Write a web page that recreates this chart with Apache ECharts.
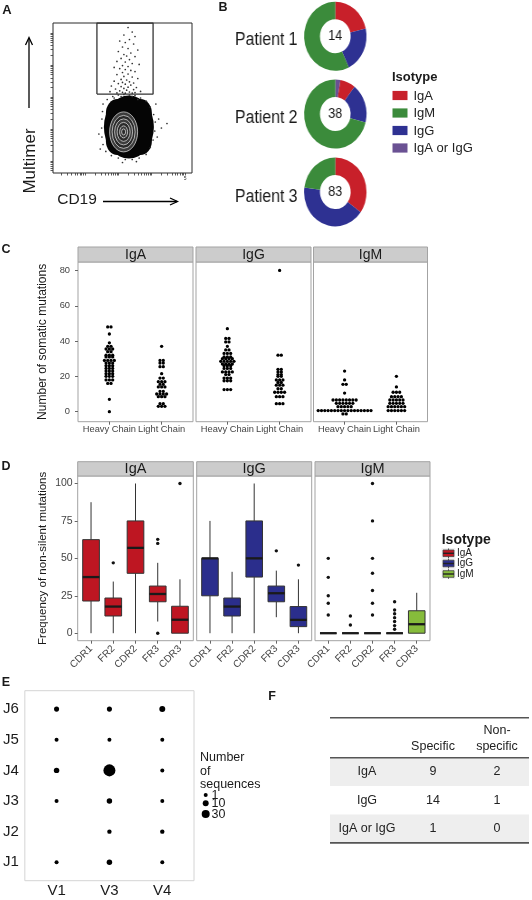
<!DOCTYPE html>
<html>
<head>
<meta charset="utf-8">
<script src="https://cdn.jsdelivr.net/npm/echarts@6.0.0/dist/echarts.min.js"></script>
<style>
html,body{margin:0;padding:0;background:#fff;}
#main{position:absolute;left:0;top:0;width:532px;height:900px;}
#pies{position:absolute;left:180px;top:0;width:230px;height:235px;transform-origin:0 0;transform:scaleX(0.905);}
</style>
</head>
<body>
<div id="main"></div>
<div id="pies"></div>
<script>
const FONT = '"Liberation Sans", Arial, Helvetica, sans-serif';

/* ====================== DATA ====================== */
// ---- Panel A: flow cytometry events (axis units: 0-5 log decades)
const gateEvents = [
  [2.7,4.85],[2.85,4.7],[2.55,4.6],[2.95,4.55],[2.75,4.45],
  [2.4,4.4],[2.6,4.35],[2.9,4.3],[2.5,4.2],[2.7,4.15],[3.05,4.1],[2.35,4.05],[2.8,4.0],
  [2.55,3.95],[2.65,3.9],[2.95,3.88],[2.45,3.82],[2.75,3.78],[2.3,3.72],[2.6,3.7],[2.85,3.65],[3.1,3.62],[2.5,3.58],[2.7,3.55],[2.2,3.52],
  [2.4,3.48],[2.6,3.45],[2.8,3.42],[2.95,3.38],[2.5,3.35],[2.7,3.3],[2.3,3.28],[2.55,3.22],[2.85,3.2],[3.05,3.15],[2.45,3.12],[2.65,3.1],[2.2,3.06],[2.75,3.04],[2.5,3.02],[2.9,3.0],
  [2.35,2.98],[2.6,2.96],[2.8,2.93],[2.1,2.9],[2.45,2.88],[2.7,2.86],[3.0,2.85],[2.55,2.82],[2.25,2.8],[2.9,2.78],[2.65,2.76],[2.4,2.74],[3.15,2.72],[2.05,2.71],[2.75,2.7],[2.5,2.69],[2.95,2.68],[2.3,2.67],[2.6,2.66],[2.85,2.665]
];
const populationEdgeEvents = [
  [1.8,2.3],[1.95,2.45],[2.15,2.55],[2.35,2.6],[2.55,2.62],[2.75,2.6],[2.95,2.58],[3.15,2.5],[3.35,2.4],[3.5,2.2],
  [3.62,1.95],[3.68,1.7],[3.66,1.4],[3.6,1.1],[3.5,0.85],[3.35,0.62],[3.1,0.5],[2.85,0.45],[2.6,0.45],[2.35,0.5],
  [2.1,0.58],[1.9,0.72],[1.8,0.95],[1.76,1.2],[1.75,1.5],[1.76,1.8],[1.78,2.05],
  [3.8,1.8],[3.9,1.5],[3.75,1.2],[4.1,1.65],[3.7,2.3],[1.65,1.3],[1.7,0.8],[2.5,0.35],[3.0,0.38],[2.2,2.5],[2.45,2.55],[2.85,2.55],[3.05,2.45]
];
const gateBox = [[1.58,2.63],[1.58,5],[3.6,5],[3.6,2.63],[1.58,2.63]];
const densePopulationCenter = [2.73,1.53];
const contourCenter = [2.54,1.37];

// ---- Panel B: isotype counts per patient
const patientNames = ['Patient 1','Patient 2','Patient 3'];
const isotypeLegend = ['IgA','IgM','IgG','IgA or IgG'];
const sliceOrder = ['IgA or IgG','IgA','IgG','IgM'];
const patient1Counts = [0,3,3,8];
const patient2Counts = [1,3,7,27];
const patient3Counts = [0,29,35,19];

// ---- Panel C: somatic mutations (dot-plot rows: [value, number of dots])
const cFacets = ['IgA','IgG','IgM'];
const chainCategories = ['Heavy Chain','Light Chain'];
const cTicks = [0,20,40,60,80];
const igaHeavy = [[48,2],[44,1],[39,1],[37,2],[35.5,3],[34,2],[32,3],[31,3],[29,4],[27.5,3],[26,3],[24.5,3],[23,3],[21.5,3],[20,3],[18,3],[16,2],[7,1],[0,1]];
const igaLight = [[37,1],[29,2],[27.5,2],[25.5,2],[21.5,1],[19,2],[17,3],[15.5,2],[14,3],[11.5,2],[10,4],[8.5,3],[4.5,2],[3,3]];
const iggHeavy = [[47,1],[41.5,2],[39.5,2],[37,1],[35,2],[33,3],[31,3],[30,4],[28.5,5],[27,4],[26,3],[24.5,3],[22.5,4],[21,2],[19,3],[17.5,3],[12.5,3]];
const iggLight = [[80,1],[32,2],[24,2],[22.5,2],[21,2],[20,2],[18,3],[16.5,2],[15,3],[13,2],[11,4],[8.5,3],[4.5,3]];
const igmHeavy = [[23,1],[18,1],[15.5,2],[10.5,1],[6.6,8],[4.7,6],[2.8,5],[0.6,17],[-1.3,2]];
const igmLight = [[20,1],[14,1],[11,3],[8.5,4],[6.6,5],[4.7,5],[2.8,6],[0.6,6]];

// ---- Panel D: frequency of non-silent mutations, boxes [min, Q1, median, Q3, max]
const regions = ['CDR1','FR2','CDR2','FR3','CDR3'];
const dFacets = ['IgA','IgG','IgM'];
const dTicks = [0,25,50,75,100];
const igaBoxes = [[0,21.5,37.5,62.5,87.5],[0,11.5,17.8,23.5,34.5],[0,40,57,75,100],[7.8,21,26.2,31.5,47],[0,0,9,18,36]];
const iggBoxes = [[0,25,50,50,75],[0,11.5,17.8,23.5,41],[0,37.5,50,75,100],[10.7,21,26.7,31.5,41.8],[0,4.4,8.9,17.8,36]];
const igmBoxes = [[0,0,0,0,0],[0,0,0,0,0],[0,0,0,0,0],[0,0,0,0,0],[0,0,6,15,27]];
const igaOutliers = [['FR2',47],['FR3',62.7],['FR3',60],['FR3',0],['CDR3',100]];
const iggOutliers = [['FR3',55],['CDR3',45.5]];
const igmOutliers = [['CDR1',50],['CDR1',37.3],['CDR1',25],['CDR1',20],['CDR1',12.2],['FR2',11.5],['FR2',5.5],
  ['CDR2',100],['CDR2',75],['CDR2',50],['CDR2',40],['CDR2',28.5],['CDR2',20],['CDR2',12.2],
  ['FR3',21],['FR3',15.5],['FR3',13],['FR3',10.4],['FR3',7.8],['FR3',5.1],['FR3',2.6]];

// ---- Panel E: V/J usage (number of sequences)
const vGenes = ['V1','V3','V4'];
const jGenes = ['J1','J2','J3','J4','J5','J6'];
const vjCounts = [
  ['V1','J6',5],['V3','J6',5],['V4','J6',10],
  ['V1','J5',1],['V3','J5',1],['V4','J5',1],
  ['V1','J4',7],['V3','J4',98],['V4','J4',1],
  ['V1','J3',1],['V3','J3',7],['V4','J3',1],
  ['V3','J2',2],['V4','J2',2],
  ['V1','J1',1],['V3','J1',7],['V4','J1',1]
];
const sizeBreaks = [1,10,30];

// ---- Panel F: specificity table
const tableRowNames = ['IgA','IgG','IgA or IgG'];
const specificCounts = [9,14,1];
const nonSpecificCounts = [2,1,0];

/* ====================== STYLE / LAYOUT ====================== */
const isoColor = {'IgA':'#C8202A','IgM':'#3B8B3B','IgG':'#2E3192','IgA or IgG':'#6A5193'};
const boxColor = {'IgA':'#BE1622','IgG':'#2B2E8C','IgM':'#86BC3B'};
const PANEL_BORDER = '#a3a3a3', STRIP_FILL = '#cccccc', TICK_COL = '#666', LAB_COL = '#444';

const grids = [], xAxes = [], yAxes = [], series = [], gfx = [];
function addGrid(g){ grids.push(g); return grids.length - 1; }
function txt(x, y, text, o = {}){
  gfx.push({type:'text', x, y, rotation:o.rot || 0, silent:true, z:o.z || 10,
    style:{text, fontSize:o.size || 12, fontFamily:FONT, fontWeight:o.bold ? 'bold' : 'normal', fill:o.color || '#1a1a1a',
      align:o.align || 'center', textAlign:o.align || 'center', verticalAlign:o.va || 'middle', textVerticalAlign:o.va || 'middle'}});
}
function line(x1, y1, x2, y2, o = {}){ gfx.push({type:'line', silent:true, z:o.z || 10, shape:{x1, y1, x2, y2}, style:{stroke:o.color || '#000', lineWidth:o.w || 1}}); }
function poly(points, o = {}){ gfx.push({type:'polyline', silent:true, z:o.z || 10, shape:{points}, style:{stroke:o.color || '#000', lineWidth:o.w || 1, fill:null}}); }
function rect(x, y, w, h, o = {}){ gfx.push({type:'rect', silent:true, z:o.z || 1, shape:{x, y, width:w, height:h}, style:{fill:o.fill || 'none', stroke:o.stroke || null, lineWidth:o.w || 0}}); }

/* ---------- Panel A ---------- */
const logTicks = (starts, span) => { const t = []; starts.forEach(s => { for (let k = 1; k <= 9; k++){ const v = s + Math.log10(k) * span; if (v > 0.02 && v < 4.98) t.push(v); } }); return t; };
const gA = addGrid({left:53, top:23, width:139, height:150, show:true, borderColor:'#2b2b2b', borderWidth:1, backgroundColor:'transparent'});
xAxes.push({gridIndex:gA, type:'value', min:0, max:5, axisLine:{show:false, onZero:false}, splitLine:{show:false},
  axisTick:{show:true, customValues:logTicks([-0.05,1.15,2.35,3.55,4.75],1.2), length:2.5, lineStyle:{color:'#333', width:0.8}},
  axisLabel:{show:true, customValues:[4.75], formatter:() => '5', fontSize:5, margin:3, color:'#333', fontFamily:FONT}});
yAxes.push({gridIndex:gA, type:'value', min:0, max:5, axisLine:{show:false, onZero:false}, splitLine:{show:false},
  axisTick:{show:true, customValues:logTicks([-0.67,0.4,1.47,2.53,3.6,4.67],1.067), length:2.5, lineStyle:{color:'#333', width:0.8}},
  axisLabel:{show:false}});
series.push({type:'scatter', xAxisIndex:gA, yAxisIndex:gA, data:[densePopulationCenter], symbol:'circle', symbolSize:[50,63], itemStyle:{color:'#050505', opacity:1}, silent:true, z:2});
series.push({type:'scatter', xAxisIndex:gA, yAxisIndex:gA, data:[densePopulationCenter], symbol:'roundRect', symbolSize:[46,56], itemStyle:{color:'#050505', opacity:1}, silent:true, z:2});
[[28,40],[23,33],[18,26],[13,19],[8,12],[4,6]].forEach((s, i) => {
  series.push({type:'scatter', xAxisIndex:gA, yAxisIndex:gA, data:[contourCenter], symbol:'circle', symbolSize:s,
    itemStyle:{color: i % 2 ? '#2a2a2a' : '#3c3c3c', borderColor:'#e6e6e6', borderWidth:0.7, opacity:1}, silent:true, z:3});
});
series.push({type:'scatter', xAxisIndex:gA, yAxisIndex:gA, data:gateEvents.concat(populationEdgeEvents), symbolSize:1.7, itemStyle:{color:'#333', opacity:1}, silent:true, z:4});
series.push({type:'line', xAxisIndex:gA, yAxisIndex:gA, data:gateBox, symbol:'none', lineStyle:{color:'#333', width:1.3}, silent:true, z:5});
txt(7, 10, 'A', {bold:true, size:13});
txt(30, 161, 'Multimer', {size:17, rot:Math.PI/2});
line(29, 108, 29, 38, {w:1.3});
poly([[25.5,45],[29,37.5],[32.5,45]], {w:1.3});
txt(77, 200, 'CD19', {size:15.5});
line(103, 201.5, 177, 201.5, {w:1.3});
poly([[170,198],[177.5,201.5],[170,205]], {w:1.3});

/* ---------- Panel B legend (pies drawn in the scaled instance) ---------- */
txt(223, 8, 'B', {bold:true, size:12.5});
txt(392, 77, 'Isotype', {bold:true, size:13, align:'left'});
const legY = [95.5, 113, 130.5, 148];
isotypeLegend.forEach((n, i) => {
  rect(392.5, legY[i] - 4.6, 15, 9.2, {fill:isoColor[n], z:5});
  txt(413.5, legY[i] + 0.5, n, {size:13, align:'left', color:'#222'});
});

/* ---------- Panel C ---------- */
const cPanels = [{left:78, width:115}, {left:196, width:115}, {left:313.5, width:114}];
const cTop = 262, cH = 159.7;
const cRows = [[igaHeavy, igaLight], [iggHeavy, iggLight], [igmHeavy, igmLight]];
const DOT_R = 1.65, DOT_STEP = 3.3;
cPanels.forEach((p, k) => {
  const g = addGrid({left:p.left, top:cTop, width:p.width, height:cH, show:true, borderColor:PANEL_BORDER, borderWidth:1, backgroundColor:'#fff'});
  xAxes.push({gridIndex:g, type:'value', min:0.4, max:2.6, axisLine:{show:false, onZero:false}, splitLine:{show:false},
    axisTick:{show:true, customValues:[1,2], length:3, lineStyle:{color:TICK_COL}},
    axisLabel:{show:true, customValues:[1,2], formatter:v => chainCategories[Math.round(v) - 1], fontSize:9.3, margin:3.5, color:LAB_COL, fontFamily:FONT}});
  yAxes.push({gridIndex:g, type:'value', min:-5.7, max:84.8, axisLine:{show:false, onZero:false}, splitLine:{show:false},
    axisTick:{show:k === 0, customValues:cTicks, length:3, lineStyle:{color:TICK_COL}},
    axisLabel:{show:k === 0, customValues:cTicks, fontSize:9.3, margin:8, color:LAB_COL, fontFamily:FONT}});
  cRows[k].forEach((rows, ci) => {
    series.push({type:'custom', coordinateSystem:'cartesian2d', xAxisIndex:g, yAxisIndex:g, silent:true, z:3,
      data:rows.map(r => [ci + 1, r[0], r[1]]),
      renderItem(params, api){
        const c = api.coord([api.value(0), api.value(1)]);
        const n = api.value(2), ch = [];
        for (let i = 0; i < n; i++) ch.push({type:'circle', shape:{cx:c[0] + (i - (n - 1) / 2) * DOT_STEP, cy:c[1], r:DOT_R}, style:{fill:'#000'}});
        return {type:'group', children:ch};
      }});
  });
  rect(p.left, 247, p.width, 15, {fill:STRIP_FILL, stroke:PANEL_BORDER, w:1, z:2});
  txt(p.left + p.width / 2, 255, cFacets[k], {size:14, color:'#1a1a1a'});
});
txt(6, 250, 'C', {bold:true, size:12.5});
txt(43, cTop + cH / 2, 'Number of somatic mutations', {size:12, rot:Math.PI/2});

/* ---------- Panel D ---------- */
const dPanels = [{left:77.7, width:115.6}, {left:196.7, width:115}, {left:315, width:115}];
const dTop = 476, dH = 164.7;
const dBoxes = [igaBoxes, iggBoxes, igmBoxes];
const dOut = [igaOutliers, iggOutliers, igmOutliers];
const BOX_W = 0.75;
dPanels.forEach((p, k) => {
  const g = addGrid({left:p.left, top:dTop, width:p.width, height:dH, show:true, borderColor:PANEL_BORDER, borderWidth:1, backgroundColor:'#fff'});
  xAxes.push({gridIndex:g, type:'value', min:0.4, max:5.6, axisLine:{show:false, onZero:false}, splitLine:{show:false},
    axisTick:{show:true, customValues:[1,2,3,4,5], length:3, lineStyle:{color:TICK_COL}},
    axisLabel:{show:true, customValues:[1,2,3,4,5], formatter:v => regions[Math.round(v) - 1], rotate:45, fontSize:10, margin:6.5, color:LAB_COL, fontFamily:FONT}});
  yAxes.push({gridIndex:g, type:'value', min:-5, max:105, axisLine:{show:false, onZero:false}, splitLine:{show:false},
    axisTick:{show:k === 0, customValues:dTicks, length:3, lineStyle:{color:TICK_COL}},
    axisLabel:{show:k === 0, customValues:dTicks, fontSize:10.5, margin:5, color:LAB_COL, fontFamily:FONT}});
  const col = boxColor[dFacets[k]];
  series.push({type:'custom', coordinateSystem:'cartesian2d', xAxisIndex:g, yAxisIndex:g, silent:true, z:3,
    data:dBoxes[k].map((b, i) => [i + 1].concat(b)),
    renderItem(params, api){
      const x = api.value(0);
      const y = [1,2,3,4,5].map(d => api.coord([x, api.value(d)])[1]);
      const cx = api.coord([x, 0])[0];
      const hw = api.size([BOX_W, 0])[0] / 2;
      return {type:'group', children:[
        {type:'line', shape:{x1:cx, y1:y[0], x2:cx, y2:y[1]}, style:{stroke:'#333', lineWidth:1}},
        {type:'line', shape:{x1:cx, y1:y[3], x2:cx, y2:y[4]}, style:{stroke:'#333', lineWidth:1}},
        {type:'rect', shape:{x:cx - hw, y:y[3], width:2 * hw, height:y[1] - y[3]}, style:{fill:col, stroke:'#333', lineWidth:1}},
        {type:'line', shape:{x1:cx - hw, y1:y[2], x2:cx + hw, y2:y[2]}, style:{stroke:'#1a1a1a', lineWidth:2.3}}
      ]};
    }});
  series.push({type:'scatter', xAxisIndex:g, yAxisIndex:g, silent:true, z:4, symbolSize:3.4, itemStyle:{color:'#111', opacity:1},
    data:dOut[k].map(o => [regions.indexOf(o[0]) + 1, o[1]])});
  rect(p.left, 461.7, p.width, 14.3, {fill:STRIP_FILL, stroke:PANEL_BORDER, w:1, z:2});
  txt(p.left + p.width / 2, 469, dFacets[k], {size:14.5, color:'#1a1a1a'});
});
txt(6, 467, 'D', {bold:true, size:12.5});
txt(43, dTop + dH / 2, 'Frequency of non-silent mutations', {size:11.5, rot:Math.PI/2});
txt(441.7, 540, 'Isotype', {bold:true, size:14, align:'left'});
rect(441.5, 548, 14, 31, {fill:'#f0f0f0', z:2});
const dLegY = [553.3, 563.5, 574];
dFacets.forEach((n, i) => {
  line(448.5, dLegY[i] - 4.8, 448.5, dLegY[i] + 4.8, {color:'#555', w:1, z:3});
  rect(443, dLegY[i] - 3.3, 11, 6.6, {fill:boxColor[n], stroke:'#444', w:0.8, z:4});
  line(443, dLegY[i], 454, dLegY[i], {color:'#222', w:1.4, z:5});
  txt(457, dLegY[i], n, {size:10, align:'left', color:'#222'});
});

/* ---------- Panel E ---------- */
const sizeFn = v => 3.1 + 0.9 * Math.sqrt(v);
const gE = addGrid({left:22.7, top:690.7, width:171.3, height:190, show:true, borderColor:'#d4d4d4', borderWidth:1, backgroundColor:'#fff'});
xAxes.push({gridIndex:gE, type:'value', min:0.4, max:3.6, axisLine:{show:false, onZero:false}, splitLine:{show:false}, axisTick:{show:false},
  axisLabel:{show:true, customValues:[1,2,3], formatter:v => vGenes[Math.round(v) - 1], fontSize:15, margin:3, color:'#1a1a1a', fontFamily:FONT}});
yAxes.push({gridIndex:gE, type:'value', min:0.4, max:6.6, axisLine:{show:false, onZero:false}, splitLine:{show:false}, axisTick:{show:false},
  axisLabel:{show:true, customValues:[1,2,3,4,5,6], formatter:v => jGenes[Math.round(v) - 1], fontSize:15, margin:6, color:'#1a1a1a', fontFamily:FONT}});
series.push({type:'scatter', xAxisIndex:gE, yAxisIndex:gE, silent:true, z:3, itemStyle:{color:'#000', opacity:1},
  data:vjCounts.map(d => [vGenes.indexOf(d[0]) + 1, jGenes.indexOf(d[1]) + 1, d[2]]),
  symbolSize:v => sizeFn(v[2])});
txt(6, 683, 'E', {bold:true, size:12.5});
txt(200, 757.3, 'Number', {size:12.5, align:'left'});
txt(200, 771.7, 'of', {size:12.5, align:'left'});
txt(200, 784.5, 'sequences', {size:12.5, align:'left'});
const eLegY = [795, 803.3, 814];
sizeBreaks.forEach((b, i) => {
  gfx.push({type:'circle', silent:true, z:10, shape:{cx:205.7, cy:eLegY[i], r:sizeFn(b) / 2}, style:{fill:'#000'}});
  txt(211.5, eLegY[i] + 0.5, String(b), {size:12.5, align:'left'});
});

/* ---------- Panel F ---------- */
txt(272, 697, 'F', {bold:true, size:12.5});
const tL = 330, tR = 529, tTop = 717.7, tHead = 757.7, rowH = 28.4;
const colX = [367, 433, 497];
txt(colX[1], 747, 'Specific', {size:12.5, color:'#222'});
txt(colX[2], 731, 'Non-', {size:12.5, color:'#222'});
txt(colX[2], 747, 'specific', {size:12.5, color:'#222'});
tableRowNames.forEach((n, i) => {
  const y0 = tHead + i * rowH;
  if (i % 2 === 0) rect(tL, y0, tR - tL, rowH, {fill:'#eeeeee', z:1});
  txt(colX[0], y0 + rowH / 2, n, {size:12.5, color:'#222'});
  txt(colX[1], y0 + rowH / 2, String(specificCounts[i]), {size:12.5, color:'#222'});
  txt(colX[2], y0 + rowH / 2, String(nonSpecificCounts[i]), {size:12.5, color:'#222'});
});
line(tL, tTop, tR, tTop, {color:'#555', w:1.6});
line(tL, tHead, tR, tHead, {color:'#555', w:1.6});
line(tL, tHead + 3 * rowH, tR, tHead + 3 * rowH, {color:'#555', w:1.6});

const main = echarts.init(document.getElementById('main'), null, {renderer:'canvas'});
main.setOption({
  animation:false, backgroundColor:'#fff',
  textStyle:{fontFamily:FONT},
  grid:grids, xAxis:xAxes, yAxis:yAxes, series:series,
  graphic:{elements:gfx}
});

/* ---------- Panel B pies (horizontally compressed like the reference) ---------- */
const SX = 0.905;
const toLocal = x => (x - 180) / SX;
const pieCX = toLocal(335.3);
const pieCY = [36.3, 114, 192];
const labelY = [40, 118, 197];
const patientCounts = [patient1Counts, patient2Counts, patient3Counts];
const pieGfx = [];
patientNames.forEach((n, i) => {
  const total = patientCounts[i].reduce((a, b) => a + b, 0);
  pieGfx.push({type:'text', x:toLocal(297.5), y:labelY[i], silent:true,
    style:{text:n, fontSize:17.5, fontFamily:FONT, fill:'#1a1a1a', align:'right', textAlign:'right', verticalAlign:'middle', textVerticalAlign:'middle'}});
  pieGfx.push({type:'text', x:pieCX, y:pieCY[i], silent:true,
    style:{text:String(total), fontSize:14, fontFamily:FONT, fill:'#1a1a1a', align:'center', textAlign:'center', verticalAlign:'middle', textVerticalAlign:'middle'}});
});
const pies = echarts.init(document.getElementById('pies'), null, {renderer:'canvas'});
pies.setOption({
  animation:false, backgroundColor:'transparent',
  series:patientNames.map((n, i) => ({
    type:'pie', name:n, center:[pieCX, pieCY[i]], radius:[17, 34.5], startAngle:90, clockwise:true, silent:true,
    label:{show:false}, labelLine:{show:false}, itemStyle:{borderWidth:0}, emphasis:{disabled:true},
    data:sliceOrder.map((s, k) => ({name:s, value:patientCounts[i][k], itemStyle:{color:isoColor[s]}})).filter(d => d.value > 0)
  })),
  graphic:{elements:pieGfx}
});
</script>
</body>
</html>
